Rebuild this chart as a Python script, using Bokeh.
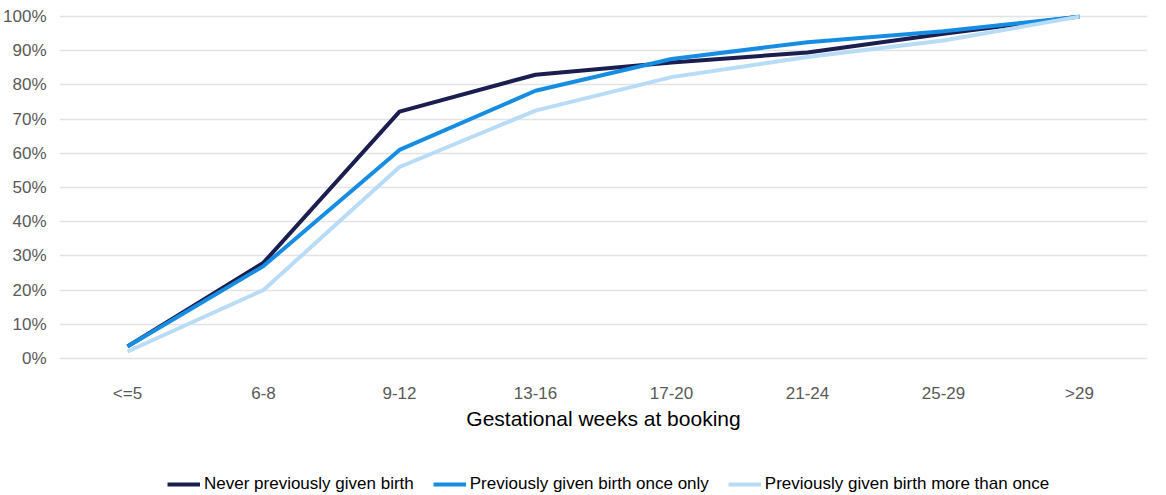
from bokeh.plotting import figure
from bokeh.layouts import column
from bokeh.models import Range1d, FactorRange, FixedTicker, PrintfTickFormatter, Legend, LegendItem
from bokeh.embed import file_html
from bokeh.resources import INLINE

categories = ["<=5", "6-8", "9-12", "13-16", "17-20", "21-24", "25-29", ">29"]
never = [3.5, 28.0, 72.2, 83.0, 86.6, 89.5, 95.0, 100.0]
once = [3.5, 27.0, 61.0, 78.3, 87.6, 92.5, 95.7, 100.0]
more = [2.0, 20.0, 56.0, 72.5, 82.3, 88.2, 93.0, 100.0]
series_names = ["Never previously given birth", "Previously given birth once only",
                "Previously given birth more than once"]
colors = ["#1b1e4f", "#168de2", "#b8dcf6"]

p = figure(frame_width=1088, frame_height=352, output_backend="svg", toolbar_location=None,
           x_range=FactorRange(*categories, range_padding=0),
           y_range=Range1d(-1.5, 101.5))
p.min_border_top = 11
p.min_border_left = 50
p.min_border_right = 12
p.min_border_bottom = 90
p.outline_line_color = None
p.background_fill_color = "white"
p.border_fill_color = "white"

p.xgrid.grid_line_color = None
p.ygrid.grid_line_color = "#e3e3e3"
p.ygrid.grid_line_width = 1.5

p.yaxis.ticker = FixedTicker(ticks=list(range(0, 101, 10)))
p.yaxis.formatter = PrintfTickFormatter(format="%d%%")
for ax in (p.xaxis[0], p.yaxis[0]):
    ax.axis_line_color = None
    ax.major_tick_line_color = None
    ax.minor_tick_line_color = None
    ax.major_label_text_font = "Liberation Sans"
    ax.major_label_text_font_size = "17px"
    ax.major_label_text_color = "#595959"
p.yaxis.major_label_standoff = 7
p.xaxis.major_label_standoff = 14
p.xaxis.axis_label = "Gestational weeks at booking"
p.xaxis.axis_label_text_font = "Liberation Sans"
p.xaxis.axis_label_text_font_size = "21px"
p.xaxis.axis_label_text_font_style = "normal"
p.xaxis.axis_label_text_color = "#000000"
p.xaxis.axis_label_standoff = 1

for name, vals, c in zip(series_names, [never, once, more], colors):
    p.line(x=categories, y=vals, line_color=c, line_width=4)

# legend strip (dummy renderers drawn outside the visible range)
p2 = figure(width=1150, height=42, output_backend="svg", toolbar_location=None,
            x_range=Range1d(0, 1), y_range=Range1d(0, 1))
p2.min_border = 0
p2.axis.visible = False
p2.grid.visible = False
p2.outline_line_color = None
items = []
for name, c in zip(series_names, colors):
    r = p2.line(x=[5, 6], y=[5, 6], line_color=c, line_width=4)
    items.append(LegendItem(label=name, renderers=[r]))
legend = Legend(items=items, orientation="horizontal", location=(108, 1))
legend.label_text_font = "Liberation Sans"
legend.label_text_font_size = "17px"
legend.label_text_color = "#000000"
legend.glyph_width = 33
legend.glyph_height = 14
legend.spacing = 19
legend.label_standoff = 4
legend.border_line_color = None
legend.background_fill_alpha = 0
legend.margin = 0
legend.padding = 0
p2.add_layout(legend, "center")

open("out.html", "w").write(file_html(column(p, p2, spacing=0), INLINE))
